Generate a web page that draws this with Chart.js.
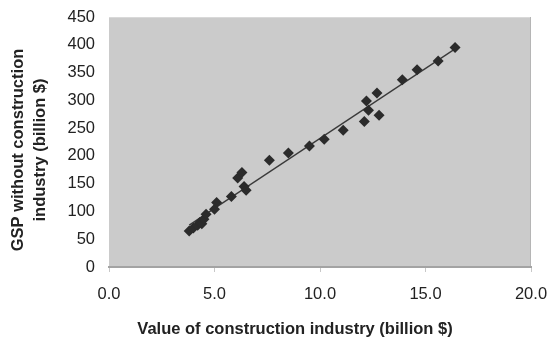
<!DOCTYPE html>
<html>
<head>
<meta charset="utf-8">
<script src="https://cdn.jsdelivr.net/npm/chart.js@4/dist/chart.umd.min.js"></script>
<style>
  html, body { margin: 0; padding: 0; background: #ffffff; }
  #wrap { width: 553px; height: 339px; position: relative; }
</style>
</head>
<body>
<div id="wrap"><canvas id="chart"></canvas></div>
<script>
// construction value (billion $) vs GSP without construction (billion $)
const constructionValues = [3.8, 4.0, 4.2, 4.3, 4.4, 4.5, 4.6, 5.0, 5.1, 5.8, 6.1, 6.3, 6.4, 6.5, 7.6, 8.5, 9.5, 10.2, 11.1, 12.1, 12.8, 12.3, 12.2, 12.7, 13.9, 14.6, 15.6, 16.4];
const gspValues = [65, 70, 75, 80, 78, 86, 95, 104, 116, 127, 160, 170, 145, 138, 192, 205, 218, 230, 246, 262, 273, 282, 299, 313, 337, 355, 371, 395];

const xTicks = [0, 5, 10, 15, 20];
const yTicks = [0, 50, 100, 150, 200, 250, 300, 350, 400, 450];

const xTitle = 'Value of construction industry (billion $)';
const yTitle = ['GSP without construction', 'industry (billion $)'];

const points = constructionValues.map((x, i) => ({ x: x, y: gspValues[i] }));

// linear trend line (least squares), like the spreadsheet trendline
const n = points.length;
const mx = constructionValues.reduce((a, b) => a + b, 0) / n;
const my = gspValues.reduce((a, b) => a + b, 0) / n;
let sxy = 0, sxx = 0;
points.forEach(p => { sxy += (p.x - mx) * (p.y - my); sxx += (p.x - mx) * (p.x - mx); });
const slope = sxy / sxx;
const intercept = my - slope * mx;
const xMin = Math.min(...constructionValues);
const xMax = Math.max(...constructionValues);
const trend = [
    { x: xMin, y: intercept + slope * xMin },
    { x: xMax, y: intercept + slope * xMax }
];

const plotBackground = {
    id: 'plotBackground',
    beforeDraw: (chart) => {
        const { ctx, chartArea: a } = chart;
        ctx.save();
        ctx.fillStyle = '#cbcbcb';
        ctx.fillRect(a.left, a.top, a.right - a.left, a.bottom - a.top);
        ctx.strokeStyle = '#d9d9d9';
        ctx.lineWidth = 1;
        ctx.beginPath();
        ctx.moveTo(a.left, a.top + 0.5);
        ctx.lineTo(a.right, a.top + 0.5);
        ctx.stroke();
        ctx.strokeStyle = '#b5b5b5';
        ctx.beginPath();
        ctx.moveTo(a.right - 0.5, a.top);
        ctx.lineTo(a.right - 0.5, a.bottom);
        ctx.stroke();
        ctx.restore();
    }
};

const axisTitles = {
    id: 'axisTitles',
    afterDraw: (chart) => {
        const ctx = chart.ctx;
        ctx.save();
        ctx.fillStyle = '#222222';
        ctx.font = 'bold 16.5px "Liberation Sans", Arial, sans-serif';
        ctx.textAlign = 'center';
        ctx.textBaseline = 'middle';
        ctx.fillText(xTitle, 295, 329);
        ctx.translate(0, 150);
        ctx.rotate(-Math.PI / 2);
        ctx.fillText(yTitle[0], 0, 18);
        ctx.fillText(yTitle[1], 0, 40);
        ctx.restore();
    }
};

new Chart(document.getElementById('chart'), {
    type: 'scatter',
    data: {
        datasets: [
            {
                data: points,
                pointStyle: 'rectRot',
                pointRadius: 5.5,
                pointBackgroundColor: '#2b2b2b',
                pointBorderColor: '#2b2b2b',
                pointBorderWidth: 0
            },
            {
                type: 'line',
                data: trend,
                borderColor: '#3a3a3a',
                borderWidth: 1.3,
                pointRadius: 0,
                fill: false
            }
        ]
    },
    options: {
        responsive: true,
        maintainAspectRatio: false,
        animation: false,
        layout: { padding: { top: 17, right: 22, left: 0, bottom: 0 } },
        plugins: {
            legend: { display: false },
            tooltip: { enabled: false }
        },
        scales: {
            x: {
                type: 'linear',
                min: 0,
                max: 20,
                afterBuildTicks: (axis) => { axis.ticks = xTicks.map(v => ({ value: v })); },
                afterFit: (axis) => {
                    axis.height = 72;
                    axis.paddingLeft = 0;
                    axis.paddingRight = 0;
                },
                border: { display: true, color: '#a3a3a3', width: 2 },
                grid: { drawOnChartArea: false, drawTicks: true, tickLength: 5, color: '#c8c8c8' },
                ticks: {
                    color: '#222222',
                    padding: 13,
                    maxRotation: 0,
                    font: { family: '"Liberation Sans", Arial, sans-serif', size: 16.5 },
                    callback: (value) => value.toFixed(1)
                }
            },
            y: {
                type: 'linear',
                min: 0,
                max: 450,
                afterBuildTicks: (axis) => { axis.ticks = yTicks.map(v => ({ value: v })); },
                afterFit: (axis) => {
                    axis.width = 109;
                    axis.paddingTop = 0;
                    axis.paddingBottom = 0;
                },
                border: { display: false },
                grid: { display: false, drawTicks: false },
                ticks: {
                    color: '#222222',
                    padding: 14,
                    font: { family: '"Liberation Sans", Arial, sans-serif', size: 16.5 }
                }
            }
        }
    },
    plugins: [plotBackground, axisTitles]
});
</script>
</body>
</html>
